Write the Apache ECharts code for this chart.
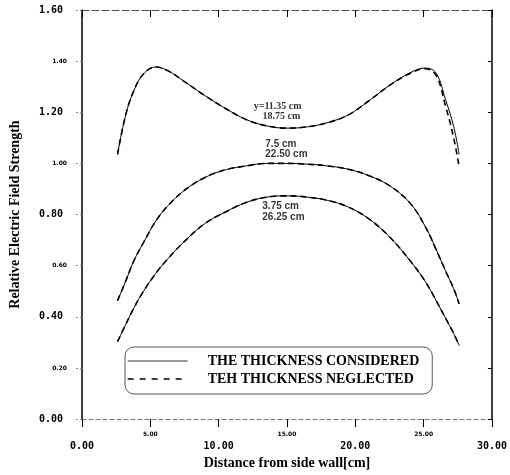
<!DOCTYPE html>
<html>
<head>
<meta charset="utf-8">
<script src="https://cdn.jsdelivr.net/npm/echarts@6/dist/echarts.min.js"></script>
<style>
  html, body { margin: 0; padding: 0; background: #fff; }
  #chart { width: 510px; height: 475px; }
</style>
</head>
<body>
<div id="chart"></div>
<script>
// x positions (cm) where the curves were read
const xs = [2.6, 3.2, 3.8, 4.5, 5.4, 6.3, 7.5, 9, 10.5, 12, 13.5, 15, 16.5, 18, 19.5, 21, 22.5, 24, 25.1, 25.9, 26.6, 27.2, 27.6];

// y = 11.35 / 18.75 cm
const topConsidered = [1.035, 1.19, 1.285, 1.35, 1.377, 1.362, 1.32, 1.265, 1.215, 1.172, 1.147, 1.138, 1.143, 1.16, 1.19, 1.245, 1.305, 1.354, 1.373, 1.354, 1.25, 1.144, 1.035];
const topNeglected = [1.035, 1.19, 1.285, 1.35, 1.377, 1.362, 1.32, 1.265, 1.215, 1.172, 1.147, 1.138, 1.143, 1.16, 1.19, 1.245, 1.305, 1.352, 1.37, 1.345, 1.225, 1.10, 0.985];
// y = 7.5 / 22.50 cm
const midConsidered = [0.463, 0.54, 0.62, 0.69, 0.775, 0.835, 0.895, 0.945, 0.975, 0.99, 1.0, 1.0, 0.997, 0.99, 0.977, 0.952, 0.913, 0.845, 0.755, 0.665, 0.58, 0.51, 0.451];
const midNeglected = midConsidered;
// y = 3.75 / 26.25 cm
const lowConsidered = [0.303, 0.37, 0.435, 0.5, 0.57, 0.628, 0.695, 0.765, 0.81, 0.847, 0.868, 0.873, 0.868, 0.855, 0.829, 0.783, 0.713, 0.62, 0.54, 0.465, 0.395, 0.335, 0.288];
const lowNeglected = lowConsidered;

const xTicks = [0, 5, 10, 15, 20, 25, 30];
const yTicks = [0, 0.2, 0.4, 0.6, 0.8, 1.0, 1.2, 1.4, 1.6];

// curve annotations [x, y, text]
const serifNotes = [[12.6, 1.219, "y=11.35 cm"], [13.25, 1.180, "18.75 cm"]];
const sansNotes = [[13.45, 1.074, "7.5 cm"], [13.45, 1.032, "22.50 cm"], [13.23, 0.829, "3.75 cm"], [13.23, 0.786, "26.25 cm"]];

const NAME_ON = "THE THICKNESS CONSIDERED";
const NAME_OFF = "TEH THICKNESS NEGLECTED";

function pairs(vals) {
    return xs.map((x, i) => [x, vals[i]]);
}

function curve(name, vals, dashed) {
    return {
        name: name,
        type: "line",
        smooth: 0.4,
        symbol: "none",
        data: pairs(vals),
        itemStyle: { color: "#000" },
        lineStyle: dashed
            ? { color: "#000", width: 1.6, type: [6, 4] }
            : { color: "#000", width: 1 },
        z: dashed ? 2 : 3
    };
}

function notes(data, family) {
    return {
        type: "scatter",
        data: data,
        symbolSize: 1,
        itemStyle: { color: "transparent" },
        silent: true,
        label: {
            show: true,
            position: [0, 0],
            align: "left",
            verticalAlign: "middle",
            formatter: p => p.data[2],
            fontFamily: family,
            fontWeight: "bold",
            fontSize: 10,
            color: "#000"
        }
    };
}

const chart = echarts.init(document.getElementById("chart"));

chart.setOption({
    animation: false,
    backgroundColor: "#fff",
    grid: { left: 82, right: 13, top: 10, bottom: 54 },
    legend: {
        data: [
            { name: NAME_ON, lineStyle: { color: "#333", width: 1 } },
            { name: NAME_OFF, lineStyle: { color: "#000", width: 1.3, type: [6, 6] } }
        ],
        orient: "vertical",
        left: 125,
        top: 347,
        padding: [7, 13, 8, 2],
        itemGap: 4,
        itemWidth: 60,
        itemHeight: 8,
        itemStyle: { color: "transparent", borderWidth: 0, opacity: 0 },
        borderColor: "#555",
        borderWidth: 1,
        borderRadius: 9,
        textStyle: {
            fontFamily: "Liberation Serif",
            fontWeight: "bold",
            fontSize: 14,
            color: "#000",
            padding: [0, 0, 0, 15]
        }
    },
    xAxis: [{
        type: "value",
        min: xTicks[0],
        max: xTicks[xTicks.length - 1],
        interval: 5,
        name: "Distance from side wall[cm]",
        nameLocation: "middle",
        nameGap: 35,
        nameTextStyle: { fontFamily: "Liberation Serif", fontWeight: "bold", fontSize: 14, color: "#000" },
        axisLine: { onZero: false, lineStyle: { color: "#777", width: 1, type: [4, 3] } },
        axisTick: { inside: false, length: 8, lineStyle: { color: "#000" } },
        splitLine: { show: false },
        axisLabel: {
            margin: 12,
            formatter: v => (v % 10 === 0 ? "{big|" : "{small|") + v.toFixed(2) + "}",
            rich: {
                big: { fontFamily: "DejaVu Sans Mono", fontWeight: "bold", fontSize: 10, color: "#000", padding: [10, 0, 0, 0] },
                small: { fontFamily: "DejaVu Sans", fontWeight: "bold", fontSize: 6, color: "#000" }
            }
        }
    }, {
        type: "value",
        position: "top",
        min: xTicks[0],
        max: xTicks[xTicks.length - 1],
        interval: 5,
        axisLine: { show: true, onZero: false, lineStyle: { color: "#555", width: 1, type: [7, 3] } },
        axisTick: { show: true, inside: true, length: 7, lineStyle: { color: "#000" } },
        axisLabel: { show: false },
        splitLine: { show: false }
    }],
    yAxis: [{
        type: "value",
        min: yTicks[0],
        max: yTicks[yTicks.length - 1],
        interval: 0.2,
        name: "Relative Electric Field Strength",
        nameLocation: "middle",
        nameGap: 60,
        nameTextStyle: { fontFamily: "Liberation Serif", fontWeight: "bold", fontSize: 14, color: "#000" },
        axisLine: { show: true, onZero: false, lineStyle: { color: "#000", width: 1.5 } },
        axisTick: { show: true, length: 7, lineStyle: { color: "#888", type: [2, 2] } },
        splitLine: { show: false },
        axisLabel: {
            margin: 15,
            formatter: v => (Math.round(v * 10) % 4 === 0 ? "{big|" : "{small|") + v.toFixed(2) + "}",
            rich: {
                big: { fontFamily: "DejaVu Sans Mono", fontWeight: "bold", fontSize: 10, color: "#000", padding: [0, 4, 0, 0] },
                small: { fontFamily: "DejaVu Sans", fontWeight: "bold", fontSize: 6, color: "#000" }
            }
        }
    }, {
        type: "value",
        position: "right",
        min: yTicks[0],
        max: yTicks[yTicks.length - 1],
        interval: 0.2,
        axisLine: { show: true, onZero: false, lineStyle: { color: "#000", width: 1.5 } },
        axisTick: { show: true, inside: true, length: 4, lineStyle: { color: "#000" } },
        axisLabel: { show: false },
        splitLine: { show: false }
    }],
    series: [
        curve(NAME_OFF, topNeglected, true),
        curve(NAME_OFF, midNeglected, true),
        curve(NAME_OFF, lowNeglected, true),
        curve(NAME_ON, topConsidered, false),
        curve(NAME_ON, midConsidered, false),
        curve(NAME_ON, lowConsidered, false),
        notes(serifNotes, "Liberation Serif"),
        notes(sansNotes, "Liberation Sans")
    ]
});
</script>
</body>
</html>
